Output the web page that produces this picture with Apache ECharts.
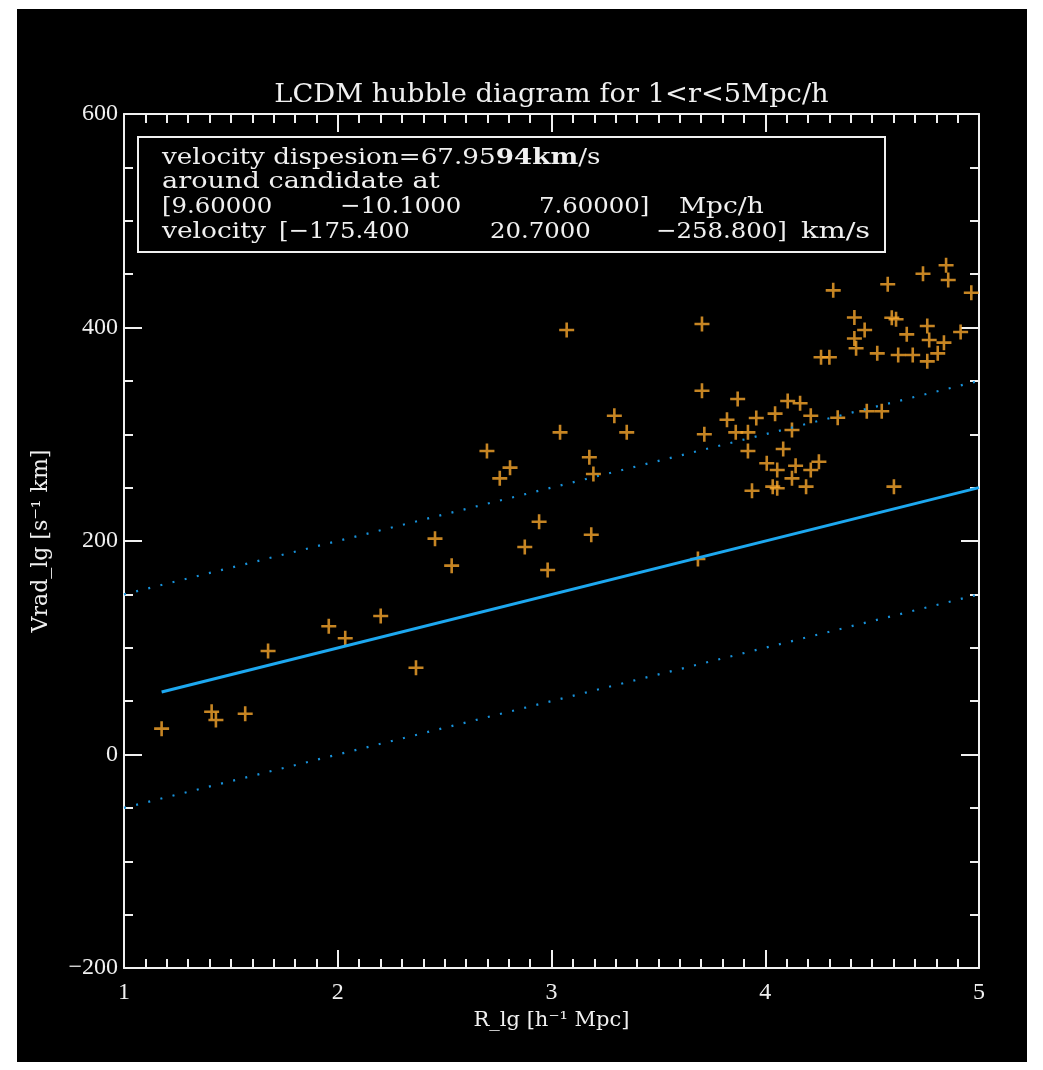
<!DOCTYPE html>
<html>
<head>
<meta charset="utf-8">
<title>LCDM hubble diagram</title>
<script src="https://cdn.jsdelivr.net/npm/echarts@6/dist/echarts.min.js"></script>
<style>
  html, body { margin: 0; padding: 0; background: #ffffff; }
  #chart { position: absolute; left: 17px; top: 9px; width: 1010px; height: 1053px; }
</style>
</head>
<body>
<div id="chart"></div>
<script>
// Axis ticks
const xTicks = [1, 2, 3, 4, 5];
const yTicks = [-200, 0, 200, 400, 600];

// Neighbour galaxies: distance and radial velocity
const rLg = [
  1.176, 1.410, 1.430, 1.567, 1.674, 1.958, 2.035, 2.201, 2.366, 2.455,
  2.533, 2.698, 2.758, 2.806, 2.875, 2.942, 2.982, 3.040, 3.071, 3.177,
  3.196, 3.186, 3.294, 3.352, 3.685, 3.704, 3.704, 3.715, 3.821, 3.862,
  3.871, 3.919, 3.919, 3.938, 3.958, 4.007, 4.035, 4.046, 4.056, 4.056,
  4.084, 4.105, 4.125, 4.125, 4.142, 4.163, 4.191, 4.213, 4.213, 4.251,
  4.261, 4.300, 4.318, 4.339, 4.417, 4.417, 4.425, 4.465, 4.475, 4.524,
  4.545, 4.573, 4.592, 4.602, 4.612, 4.622, 4.662, 4.690, 4.738, 4.758,
  4.758, 4.767, 4.807, 4.836, 4.846, 4.856, 4.914, 4.964
];
const vradLg = [
  24.2, 40.1, 32.3, 38.2, 97.0, 120.1, 108.9, 129.7, 81.3, 202.2,
  176.9, 284.3, 258.7, 268.7, 194.4, 218.1, 172.8, 301.8, 397.7, 278.4,
  262.8, 205.9, 317.4, 301.8, 183.1, 403.3, 340.8, 300.0, 313.6, 301.8,
  333.0, 301.8, 284.3, 247.1, 315.2, 272.8, 250.9, 319.3, 266.5, 249.4,
  286.2, 331.1, 304.0, 258.7, 270.5, 329.0, 250.9, 317.4, 266.5, 274.3,
  372.1, 372.1, 434.8, 315.5, 409.4, 389.7, 380.5, 397.7, 321.5, 375.8,
  321.5, 440.5, 409.2, 250.9, 407.7, 374.2, 393.6, 374.2, 450.4, 401.4,
  368.3, 388.3, 375.8, 385.8, 458.3, 444.5, 395.8, 432.6
];

// Hubble flow line and the +/- dispersion band
const hubbleR = [1.176, 5];
const hubbleV = [58.5, 250];
const bandR = [1, 5];
const bandUpperV = [150, 350];
const bandLowerV = [-50, 150];

const FG = '#f0f0f0';
const FONT = 'DejaVu Serif';
const TICK_FONT = 'Liberation Serif';
const plusSymbol = 'path://M6.2,0H8.8V6.2H15V8.8H8.8V15H6.2V8.8H0V6.2H6.2Z';

function pairs(xs, ys) { return xs.map((x, i) => [x, ys[i]]); }
function minus(v) { return String(v).replace('-', '\u2212'); }

function makeAxis(kind, position, showLabels) {
  const isX = kind === 'x';
  const ticks = isX ? xTicks : yTicks;
  return {
    type: 'value',
    position: position,
    min: ticks[0],
    max: ticks[ticks.length - 1],
    interval: ticks[1] - ticks[0],
    axisLine: { show: true, onZero: false, lineStyle: { color: FG, width: 2 } },
    axisTick: { show: true, inside: true, length: 18, lineStyle: { color: FG, width: 2 } },
    minorTick: { show: true, splitNumber: isX ? 10 : 4, length: 9, lineStyle: { color: FG, width: 2 } },
    splitLine: { show: false },
    minorSplitLine: { show: false },
    axisLabel: {
      show: showLabels,
      color: FG,
      fontFamily: TICK_FONT,
      fontSize: 24,
      margin: isX ? 13 : 6,
      formatter: minus
    }
  };
}

const chart = echarts.init(document.getElementById('chart'), null, { renderer: 'canvas' });

const xBottom = makeAxis('x', 'bottom', true);
xBottom.name = 'R_lg [h\u207B\u00B9 Mpc]';
xBottom.nameLocation = 'middle';
xBottom.nameGap = 42;
xBottom.nameTextStyle = { color: FG, fontFamily: FONT, fontSize: 21 };

const yLeft = makeAxis('y', 'left', true);
yLeft.name = 'Vrad_lg [s\u207B\u00B9 km]';
yLeft.nameLocation = 'middle';
yLeft.nameGap = 72;
yLeft.nameTextStyle = { color: FG, fontFamily: FONT, fontSize: 22 };

// Text inside the info box; words are drawn a little wider than numbers
const WORD_SCALE = 1.15;
const NUM_SCALE = 1.06;
function txt(x, y, s, sx) {
  return {
    type: 'text', x: x, y: y, scaleX: sx, z: 10,
    style: { text: s, fill: FG, font: '23px "DejaVu Serif"', textAlign: 'left', textVerticalAlign: 'middle' }
  };
}

chart.setOption({
  backgroundColor: '#000000',
  animation: false,
  grid: { left: 107, right: 48, top: 105, bottom: 94 },
  xAxis: [xBottom, makeAxis('x', 'top', false)],
  yAxis: [yLeft, makeAxis('y', 'right', false)],
  graphic: [
    {
      type: 'text', x: 534.5, y: 86, scaleX: 1.05, z: 10,
      style: { text: 'LCDM hubble diagram for 1<r<5Mpc/h', fill: FG, font: '26px "DejaVu Serif"',
               textAlign: 'center', textVerticalAlign: 'middle' }
    },
    {
      type: 'rect', shape: { x: 121, y: 128, width: 747, height: 115 }, z: 10,
      style: { fill: 'none', stroke: FG, lineWidth: 2 }
    },
    {
      type: 'text', x: 145, y: 149, scaleX: 1.14, z: 10,
      style: {
        text: 'velocity dispesion=67.95{b|94km}/s',
        fill: FG, font: '23px "DejaVu Serif"', textAlign: 'left', textVerticalAlign: 'middle',
        rich: { b: { fill: FG, fontFamily: FONT, fontSize: 23, fontWeight: 'bold' } }
      }
    },
    txt(145, 173, 'around candidate at', 1.18),
    txt(145, 198, '[9.60000', NUM_SCALE),
    txt(323, 198, '\u221210.1000', NUM_SCALE),
    txt(522, 198, '7.60000]', NUM_SCALE),
    txt(662, 198, 'Mpc/h', WORD_SCALE),
    txt(145, 223, 'velocity', WORD_SCALE),
    txt(262, 223, '[\u2212175.400', NUM_SCALE),
    txt(473, 223, '20.7000', NUM_SCALE),
    txt(639, 223, '\u2212258.800]', NUM_SCALE),
    txt(784, 223, 'km/s', 1.25)
  ],
  series: [
    {
      type: 'scatter',
      data: pairs(rLg, vradLg),
      symbol: plusSymbol,
      symbolSize: 15,
      itemStyle: { color: '#f8a62c' },
      z: 2
    },
    {
      type: 'line',
      data: pairs(hubbleR, hubbleV),
      showSymbol: false,
      lineStyle: { color: '#1da8f0', width: 3 },
      z: 3
    },
    {
      type: 'line',
      data: pairs(bandR, bandUpperV),
      showSymbol: false,
      lineStyle: { color: '#1893dc', width: 2.2, type: [2, 10.5], cap: 'butt' },
      z: 3
    },
    {
      type: 'line',
      data: pairs(bandR, bandLowerV),
      showSymbol: false,
      lineStyle: { color: '#1893dc', width: 2.2, type: [2, 10.5], cap: 'butt' },
      z: 3
    }
  ]
});
</script>
</body>
</html>
